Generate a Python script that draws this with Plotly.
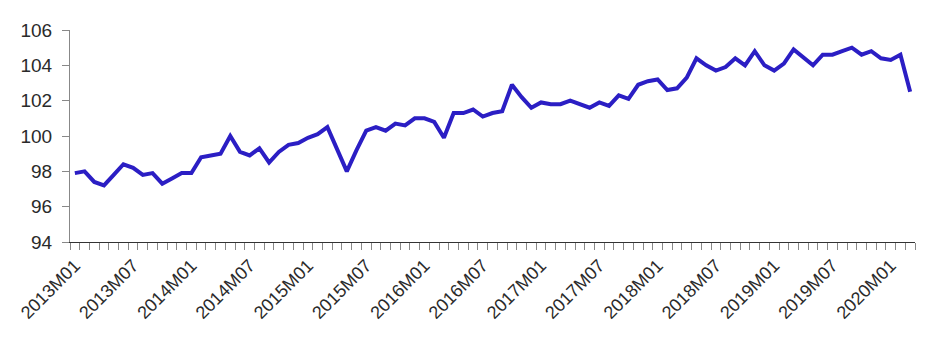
import plotly.graph_objects as go

months = [f"{y}M{m:02d}" for y in range(2013, 2021) for m in range(1, 13)][:87]

values = [
    97.9, 98.0, 97.4, 97.2, 97.8, 98.4, 98.2, 97.8, 97.9, 97.3, 97.6, 97.9,
    97.9, 98.8, 98.9, 99.0, 100.0, 99.1, 98.9, 99.3, 98.5, 99.1, 99.5, 99.6,
    99.9, 100.1, 100.5, 99.3, 98.0, 99.2, 100.3, 100.5, 100.3, 100.7, 100.6, 101.0,
    101.0, 100.8, 99.9, 101.3, 101.3, 101.5, 101.1, 101.3, 101.4, 102.9, 102.2, 101.6,
    101.9, 101.8, 101.8, 102.0, 101.8, 101.6, 101.9, 101.7, 102.3, 102.1, 102.9, 103.1,
    103.2, 102.6, 102.7, 103.3, 104.4, 104.0, 103.7, 103.9, 104.4, 104.0, 104.8, 104.0,
    103.7, 104.1, 104.9, 104.45, 104.0, 104.6, 104.6, 104.8, 105.0, 104.6, 104.8, 104.4,
    104.3, 104.6, 102.5,
]

tick_labels = months[::6]
y_ticks = [94, 96, 98, 100, 102, 104, 106]

idx = list(range(len(months)))
tick_idx = idx[::6]

fig = go.Figure()
fig.add_trace(go.Scatter(
    x=idx, y=values, mode="lines",
    line=dict(color="#2b1ec4", width=4),
    customdata=months,
    hovertemplate="%{customdata}: %{y}<extra></extra>",
))

font = dict(family="Liberation Sans, Arial, sans-serif", size=18, color="#2a2a2a")

fig.update_layout(
    width=943, height=344,
    margin=dict(l=70, r=28, t=30, b=102),
    paper_bgcolor="white", plot_bgcolor="white",
    showlegend=False,
    font=font,
    xaxis=dict(
        range=[-0.5, len(months) - 0.5],
        tickmode="array", tickvals=tick_idx, ticktext=tick_labels,
        tickangle=-45, ticks="", showgrid=False, zeroline=False,
        showline=True, linecolor="#333333", linewidth=1,
        tickfont=dict(size=18, color="#2a2a2a"),
        ticklabelstandoff=5,
        minor=dict(ticks="outside", ticklen=7, tickcolor="#888888",
                   tick0=-0.5, dtick=1, showgrid=False),
    ),
    yaxis=dict(
        range=[94, 106], tickmode="array", tickvals=y_ticks,
        ticks="outside", ticklen=7, tickcolor="#888888",
        showgrid=False, zeroline=False,
        showline=True, linecolor="#888888", linewidth=1,
        tickfont=dict(size=19, color="#2a2a2a"),
        ticklabelstandoff=6,
    ),
)

fig.write_html("out.html")
